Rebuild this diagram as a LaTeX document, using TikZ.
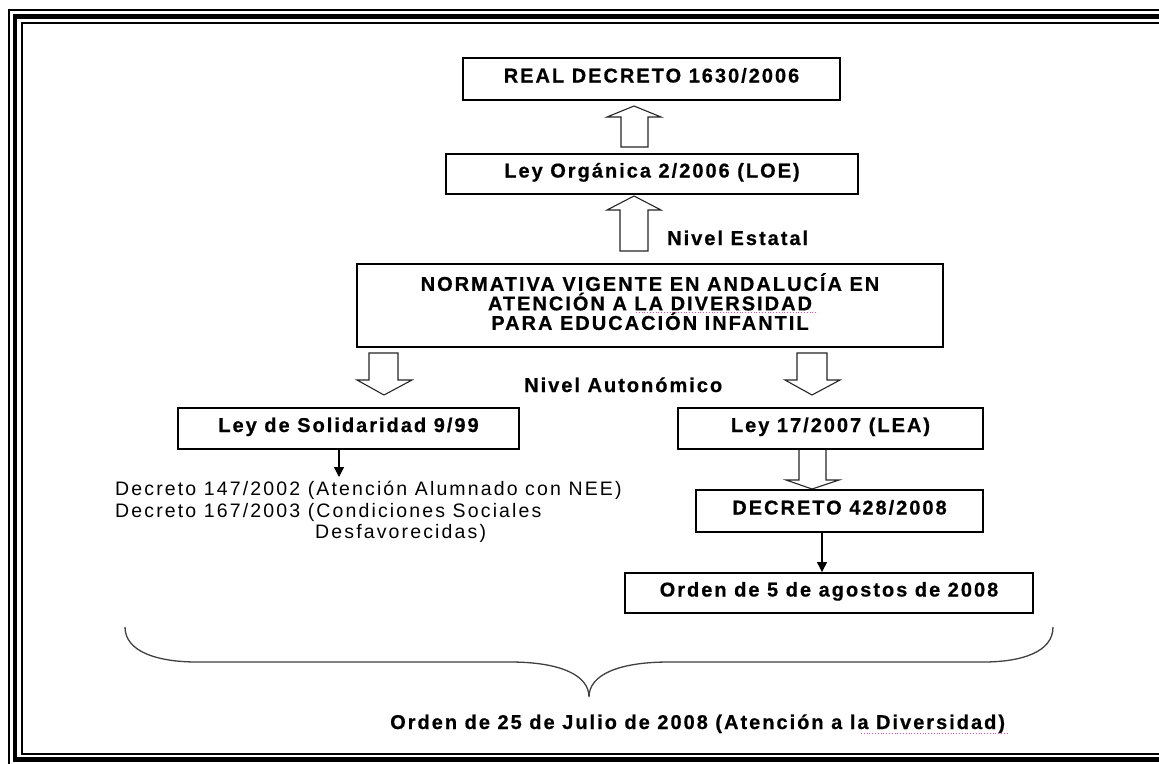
\documentclass[tikz,border=0pt]{standalone}
\usepackage{fontspec}
\setmainfont{Liberation Sans}
\newfontfamily\spc[LetterSpace=10, BoldFeatures={FakeBold=0.6}]{Liberation Sans}
\newfontfamily\spcr[LetterSpace=11]{Liberation Sans}
\usetikzlibrary{arrows.meta,calc}
\begin{document}
\begin{tikzpicture}[x=1pt,y=-1pt,
  lbl/.style={font={\spc\bfseries\fontsize{20pt}{19.5pt}\selectfont}, inner sep=0pt},
  reg/.style={font={\spcr\fontsize{19.5pt}{21.5pt}\selectfont}, inner sep=0pt},
  box/.style={draw=black, line width=1.9pt, lbl, text height=14pt, text depth=7pt},
  hollow/.style={draw=black!85, line width=1.1pt, fill=white, line join=miter},
  thinarr/.style={line width=1.3pt, -{Triangle[length=10pt,width=10pt]}},
  brace/.style={draw=black!75, line width=1.3pt},
  spell/.style={draw=magenta!70, line width=0.8pt, dotted}]
\useasboundingbox (0,0) rectangle (1159,763);
\clip (0,0) rectangle (1159,763);
\fill[white] (0,0) rectangle (1159,763);
% frame
\draw[line width=1.6pt] (8.75,9.75) rectangle (1190,767);
\draw[line width=4.5pt] (15,16.25) rectangle (1183,759.5);
\draw[line width=2pt] (22,22.5) rectangle (1176,754);
% hollow block arrows
\draw[hollow] (621,147) -- (621,117) -- (607,117) -- (634,106) -- (661,117) -- (648,117) -- (648,147) -- cycle;
\draw[hollow] (620,251) -- (620,210) -- (607,210) -- (634,196) -- (661,210) -- (648,210) -- (648,251) -- cycle;
\draw[hollow] (369,353) -- (369,380) -- (357,380) -- (384,395) -- (412,380) -- (398,380) -- (398,353) -- cycle;
\draw[hollow] (797,353) -- (797,380) -- (785,380) -- (812,395) -- (840,380) -- (827,380) -- (827,353) -- cycle;
\draw[hollow] (799,449) -- (799,480) -- (786,480) -- (812,489) -- (839,480) -- (826,480) -- (826,449);
% boxes
\node[box, minimum width=377pt, minimum height=42pt] (real) at (651.5,79) {REAL DECRETO 1630/2006};
\node[box, minimum width=412pt, minimum height=40pt] (loe) at (652,174) {Ley Orgánica 2/2006 (LOE)};
\node[draw=black, line width=1.9pt, lbl, align=center, minimum width=586pt, minimum height=83pt] (norm) at (650,305.5)
  {NORMATIVA VIGENTE EN ANDALUCÍA EN\\ATENCIÓN A LA DIVERSIDAD\\PARA EDUCACIÓN INFANTIL\rule[-8pt]{0pt}{8pt}};
\node[lbl, anchor=base west] (estatal) at (667,245) {Nivel Estatal};
\node[lbl, anchor=base west] (auton) at (524,392) {Nivel Autonómico};
\node[box, minimum width=341pt, minimum height=41pt] (sol) at (348.5,428.5) {Ley de Solidaridad 9/99};
\node[box, minimum width=305pt, minimum height=41pt] (lea) at (830.5,428.5) {Ley 17/2007 (LEA)};
\node[box, minimum width=287pt, minimum height=42pt] (dec) at (839.5,511) {DECRETO 428/2008};
\node[box, minimum width=408pt, minimum height=40pt] (orden5) at (829,593) {Orden de 5 de agostos de 2008};
% decretos text
\node[reg, anchor=base west] (dec1) at (115,495) {Decreto 147/2002 (Atención Alumnado con NEE)};
\node[reg, anchor=base west] (dec2) at (115,517) {Decreto 167/2003 (Condiciones Sociales};
\node[reg, anchor=base west] (dec3) at (315,538) {Desfavorecidas)};
% thin arrows
\coordinate (soltip) at (339,477);
\draw[thinarr] (soltip |- sol.south) -- (soltip);
\coordinate (decx) at (822,0);
\draw[thinarr] (decx |- dec.south) -- (decx |- orden5.north);
% brace
\draw[brace] (125,627) .. controls (125,652) and (158,662) .. (197,662) -- (510,662)
  .. controls (560,662) and (589,675) .. (589,697)
  .. controls (589,675) and (618,662) .. (669,662) -- (983,662)
  .. controls (1022,662) and (1053,652) .. (1053,627);
\node[lbl, anchor=base west] (orden25) at (390,729) {Orden de 25 de Julio de 2008 (Atención a la Diversidad)};
% spell-check marks
\draw[spell] (636,312) -- (818,312);
\draw[spell] (861,733) -- (1009,733);
\end{tikzpicture}
\end{document}
